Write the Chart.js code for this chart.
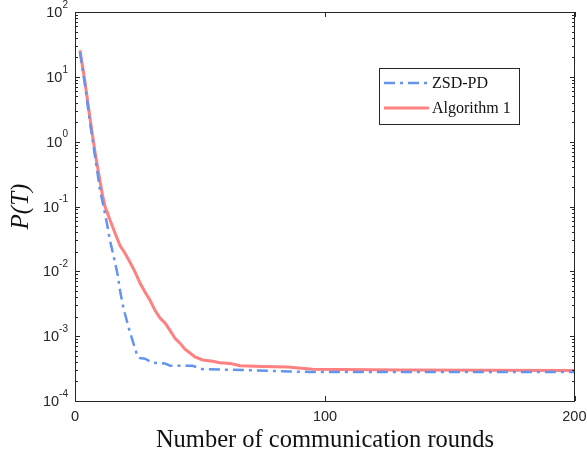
<!DOCTYPE html>
<html>
<head>
<meta charset="utf-8">
<script src="https://cdn.jsdelivr.net/npm/chart.js@4.4.0/dist/chart.umd.min.js"></script>
<style>
  html, body { margin: 0; padding: 0; background: #fff; }
</style>
</head>
<body>
<canvas id="ptChart" width="587" height="457"></canvas>
<script>
// ข้อมูลที่อ่านจากกราฟ (x = จำนวนรอบการสื่อสาร, y = P(T))
const roundsZsd = [2, 4, 6, 8, 10, 11, 12, 13, 14, 16, 17, 18, 19, 20, 22, 24, 25, 26, 28, 31, 36, 38, 47, 51, 67, 94, 130, 200];
const ptZsd = [24, 7.5, 2.0, 0.6, 0.18, 0.12, 0.078, 0.049, 0.03, 0.0138, 0.0091, 0.0051, 0.0032, 0.0022, 0.00114, 0.00065, 0.00049, 0.00046, 0.00045, 0.00039, 0.00038, 0.00035, 0.00035, 0.00031, 0.0003, 0.00028, 0.00028, 0.00028];

const roundsAlg = [2, 4, 6, 8, 10, 11, 12, 13, 14, 16, 18, 20, 22, 24, 26, 28, 30, 32, 34, 36, 38, 40, 42, 44, 46, 48, 51, 55, 58, 62, 66, 75, 85, 95, 130, 200];
const ptAlg = [25.7, 8.3, 2.3, 0.69, 0.245, 0.15, 0.1, 0.079, 0.062, 0.039, 0.025, 0.019, 0.0138, 0.0098, 0.0066, 0.0048, 0.0036, 0.0025, 0.0019, 0.0016, 0.00123, 0.00093, 0.00078, 0.00063, 0.00055, 0.00048, 0.00043, 0.00041, 0.00039, 0.00038, 0.00035, 0.00034, 0.000335, 0.00031, 0.0003, 0.000295];

const seriesNames = ['ZSD-PD', 'Algorithm 1'];
const xTicks = [0, 100, 200];
const yDecades = [-4, -3, -2, -1, 0, 1, 2];

const axisColor = '#262626';
const sansFont = '"Liberation Sans", Arial, sans-serif';
const serifFont = '"Liberation Serif", "DejaVu Serif", serif';

// plugin วาดกรอบ, ขีด tick ด้านใน, label ของแกน และ legend
const matlabAxes = {
  id: 'matlabAxes',
  afterDraw(chart) {
    const ctx = chart.ctx;
    const area = chart.chartArea;
    const xs = chart.scales.x;
    const ys = chart.scales.y;
    ctx.save();
    ctx.strokeStyle = axisColor;
    ctx.lineWidth = 1;
    ctx.strokeRect(area.left + 0.5, area.top + 0.5, area.right - area.left - 1, area.bottom - area.top);

    ctx.beginPath();
    // y ticks (major + minor)
    yDecades.forEach((d, i) => {
      for (let m = 1; m <= 9; m++) {
        if (i === yDecades.length - 1 && m > 1) break;
        const py = Math.round(ys.getPixelForValue(m * Math.pow(10, d))) + 0.5;
        const len = m === 1 ? 5 : 3;
        ctx.moveTo(area.left, py); ctx.lineTo(area.left + len, py);
        ctx.moveTo(area.right, py); ctx.lineTo(area.right - len, py);
      }
    });
    // x ticks
    xTicks.forEach(v => {
      const px = Math.round(xs.getPixelForValue(v)) + 0.5;
      ctx.moveTo(px, area.bottom); ctx.lineTo(px, area.bottom - 5);
      ctx.moveTo(px, area.top); ctx.lineTo(px, area.top + 5);
    });
    ctx.stroke();

    // x labels (ขยับ label ท้ายสุดไม่ให้ล้นขอบ)
    ctx.fillStyle = axisColor;
    ctx.textBaseline = 'middle';
    ctx.textAlign = 'left';
    ctx.font = '14.5px ' + sansFont;
    xTicks.forEach(v => {
      const txt = String(v);
      const w = ctx.measureText(txt).width;
      let left = xs.getPixelForValue(v) - w / 2;
      left = Math.min(left, chart.width - w - 0.5);
      ctx.fillText(txt, left, area.bottom + 16);
    });

    // y labels 10^k
    yDecades.forEach(d => {
      const py = ys.getPixelForValue(Math.pow(10, d));
      const exp = String(d);
      ctx.font = '10px ' + sansFont;
      const ew = ctx.measureText(exp).width;
      const right = area.left - 7;
      ctx.fillText(exp, right - ew, py - 7);
      ctx.font = '14.5px ' + sansFont;
      const bw = ctx.measureText('10').width;
      ctx.fillText('10', right - ew - bw, py + 1);
    });

    // legend
    const lx = 379, ly = 68, lw = 140, lh = 56;
    ctx.fillStyle = '#fff';
    ctx.fillRect(lx, ly, lw, lh);
    ctx.strokeStyle = axisColor;
    ctx.lineWidth = 1;
    ctx.strokeRect(lx + 0.5, ly + 0.5, lw, lh);
    chart.data.datasets.forEach((ds, i) => {
      const cy = ly + 15 + i * 25;
      ctx.beginPath();
      ctx.strokeStyle = ds.borderColor;
      ctx.lineWidth = ds.borderWidth;
      ctx.setLineDash(ds.borderDash || []);
      ctx.moveTo(lx + 5, cy); ctx.lineTo(lx + 50, cy);
      ctx.stroke();
      ctx.setLineDash([]);
      ctx.fillStyle = '#111';
      ctx.font = '16px ' + serifFont;
      ctx.fillText(ds.label, lx + 53, cy + 1);
    });
    ctx.restore();
  }
};

const ctx = document.getElementById('ptChart').getContext('2d');
const ptChart = new Chart(ctx, {
  type: 'line',
  data: {
    datasets: [{
      label: seriesNames[0],
      data: roundsZsd.map((r, i) => ({ x: r, y: ptZsd[i] })),
      borderColor: 'rgb(100, 149, 237)',
      borderWidth: 2.5,
      borderDash: [11, 5, 3, 5],
      pointRadius: 0,
      fill: false,
    }, {
      label: seriesNames[1],
      data: roundsAlg.map((r, i) => ({ x: r, y: ptAlg[i] })),
      borderColor: 'rgb(255, 128, 128)',
      borderWidth: 3,
      pointRadius: 0,
      fill: false,
    }],
  },
  options: {
    responsive: false,
    animation: false,
    devicePixelRatio: 1,
    layout: { padding: { top: 12, right: 12, left: 0, bottom: 0 } },
    plugins: { legend: { display: false }, tooltip: { enabled: false } },
    scales: {
      x: {
        type: 'linear',
        min: 0,
        max: 200,
        grid: { display: false },
        border: { display: false },
        ticks: { display: false },
        title: {
          display: true,
          text: 'Number of communication rounds',
          color: '#111',
          font: { family: serifFont, size: 24.5 },
          padding: { top: 0, bottom: 2 }
        },
        afterFit: s => { s.height = 56; s.paddingLeft = 0; s.paddingRight = 0; }
      },
      y: {
        type: 'logarithmic',
        min: 1e-4,
        max: 100,
        grid: { display: false },
        border: { display: false },
        ticks: { display: false },
        title: {
          display: true,
          text: 'P(T)',
          color: '#111',
          font: { family: serifFont, size: 25, style: 'italic' },
          padding: { top: 6, bottom: 20 }
        },
        afterFit: s => { s.width = 75; s.paddingTop = 0; s.paddingBottom = 0; }
      }
    }
  },
  plugins: [matlabAxes]
});
</script>
</body>
</html>
